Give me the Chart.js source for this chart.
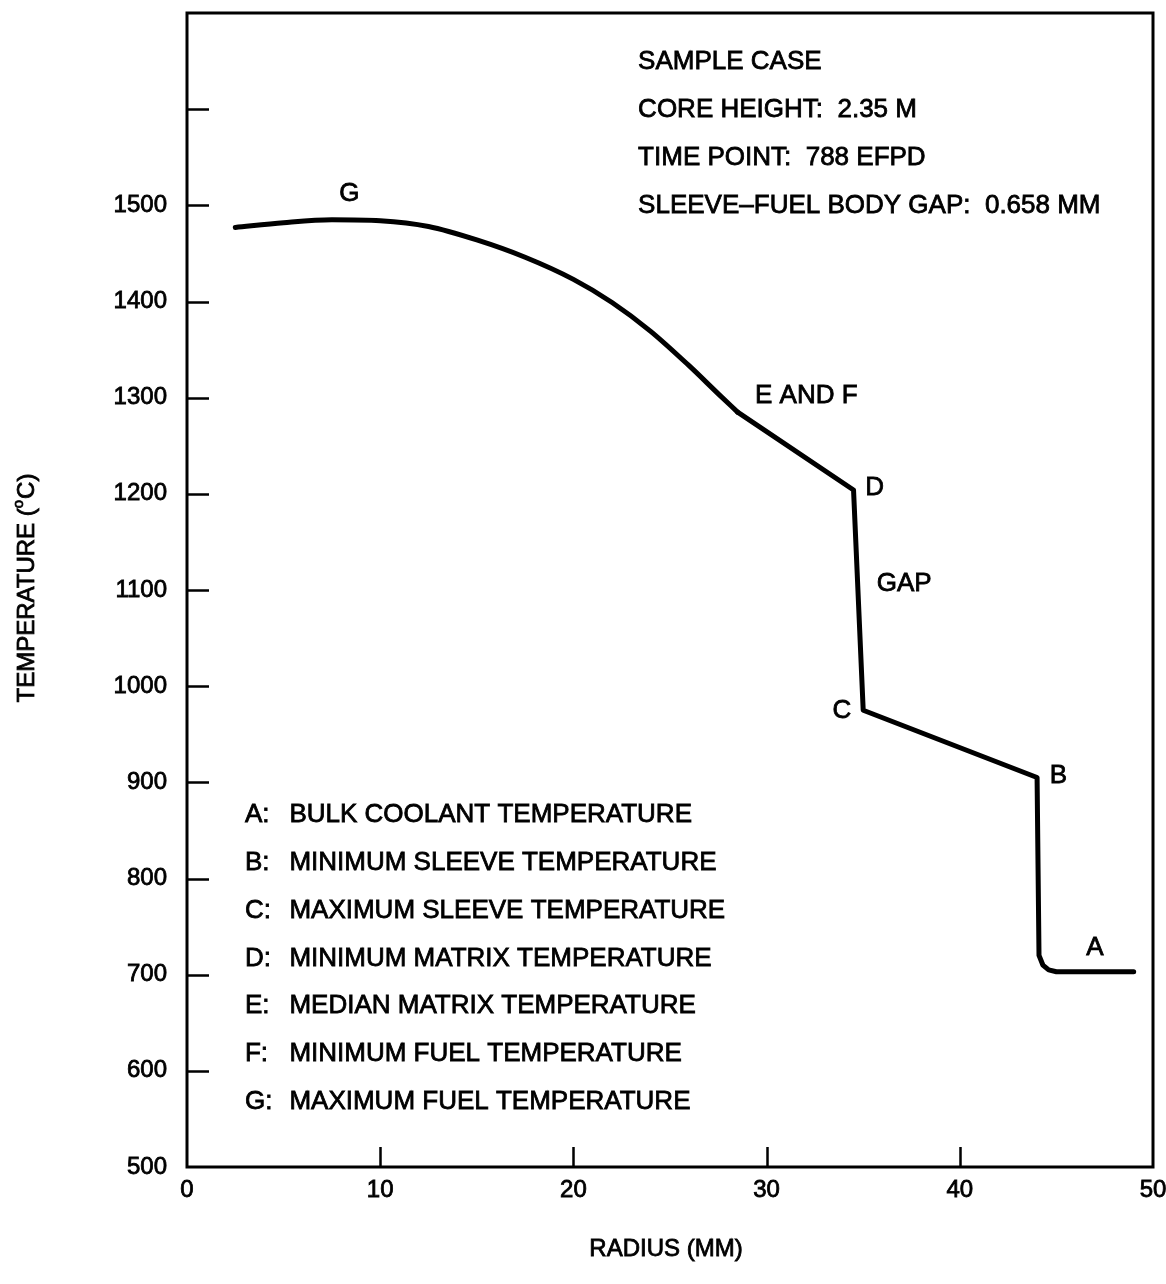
<!DOCTYPE html>
<html>
<head>
<meta charset="utf-8">
<script src="https://cdn.jsdelivr.net/npm/chart.js@4.4.1/dist/chart.umd.min.js"></script>
<style>
	html, body { margin: 0; padding: 0; background: #fff; }
	#wrap { width: 1166px; height: 1284px; position: relative; }
</style>
</head>
<body>
<div id="wrap"><canvas id="tempChart"></canvas></div>
<script>
// radial temperature profile
const radiusMm = [2.5, 5, 7.5, 10, 12.5, 15, 17.5, 20, 22, 24, 26, 27.5, 28.5, 34.5, 35.0, 44.0, 44.1, 44.3, 44.6, 45.0, 49.0];
const temperatureC = [1477, 1482, 1485, 1484, 1478, 1464, 1446, 1423, 1399, 1369, 1333, 1304, 1285, 1204, 975, 905, 720, 710, 705, 703, 703];
const curveEnd = 12; // E/F kink, smooth part before it

const xTickLabels = ["0", "10", "20", "30", "40", "50"];
const yTickLabels = ["500", "600", "700", "800", "900", "1000", "1100", "1200", "1300", "1400", "1500"];
const xTickMarks = [10, 20, 30, 40];
const yTickMarks = [600, 700, 800, 900, 1000, 1100, 1200, 1300, 1400, 1500, 1600];

const infoLines = ["SAMPLE CASE", "CORE HEIGHT:  2.35 M", "TIME POINT:  788 EFPD", "SLEEVE\u2013FUEL BODY GAP:  0.658 MM"];
const legendKeys = ["A:", "B:", "C:", "D:", "E:", "F:", "G:"];
const legendTexts = [
	"BULK COOLANT TEMPERATURE",
	"MINIMUM SLEEVE TEMPERATURE",
	"MAXIMUM SLEEVE TEMPERATURE",
	"MINIMUM MATRIX TEMPERATURE",
	"MEDIAN MATRIX TEMPERATURE",
	"MINIMUM FUEL TEMPERATURE",
	"MAXIMUM FUEL TEMPERATURE",
];

// where the point letters sit (data units)
const pointNotes = [
	{ text: "G", x: 8.4, y: 1512, align: "center" },
	{ text: "E AND F", x: 29.4, y: 1302, align: "left" },
	{ text: "D", x: 35.1, y: 1206, align: "left" },
	{ text: "GAP", x: 35.7, y: 1106, align: "left" },
	{ text: "C", x: 33.9, y: 974, align: "center" },
	{ text: "B", x: 45.1, y: 907, align: "center" },
	{ text: "A", x: 47.0, y: 728, align: "center" },
];

const FONT = '"Liberation Sans", Arial, sans-serif';

// filled + thin stroke, the scanned lettering is heavier than regular
const ink = (ctx, t, x, y) => {
	ctx.fillText(t, x, y);
	ctx.strokeText(t, x, y);
};

const framePlugin = {
	id: "frame",
	afterDraw(chart) {
		const { ctx, chartArea: a, scales } = chart;
		const x = scales.x;
		const y = scales.y;
		ctx.save();
		ctx.strokeStyle = "#000";
		ctx.fillStyle = "#000";
		ctx.lineWidth = 3;
		ctx.strokeRect(a.left, a.top, a.right - a.left, a.bottom - a.top);

		// inward ticks
		ctx.lineWidth = 2.5;
		ctx.beginPath();
		yTickMarks.forEach((v) => {
			const py = Math.round(y.getPixelForValue(v)) + 0.5;
			ctx.moveTo(a.left, py);
			ctx.lineTo(a.left + 22, py);
		});
		xTickMarks.forEach((v) => {
			const px = Math.round(x.getPixelForValue(v)) + 0.5;
			ctx.moveTo(px, a.bottom);
			ctx.lineTo(px, a.bottom - 20);
		});
		ctx.stroke();

		ctx.lineWidth = 0.8;
		ctx.textBaseline = "middle";

		// tick labels
		ctx.font = "24px " + FONT;
		ctx.textAlign = "right";
		yTickLabels.forEach((t) => ink(ctx, t, a.left - 20, y.getPixelForValue(Number(t))));
		ctx.textAlign = "center";
		xTickLabels.forEach((t) => ink(ctx, t, x.getPixelForValue(Number(t)), a.bottom + 23));

		ctx.font = "26px " + FONT;
		// info block
		ctx.textAlign = "left";
		infoLines.forEach((t, i) => {
			ink(ctx, t, x.getPixelForValue(23.35), y.getPixelForValue(1649 - 49.7 * i));
		});

		// legend
		legendKeys.forEach((k, i) => {
			const py = y.getPixelForValue(866 - 49.7 * i);
			ink(ctx, k, x.getPixelForValue(3.0), py);
			ink(ctx, legendTexts[i], x.getPixelForValue(5.3), py);
		});

		// point labels
		pointNotes.forEach((n) => {
			ctx.textAlign = n.align;
			ink(ctx, n.text, x.getPixelForValue(n.x), y.getPixelForValue(n.y));
		});

		// axis titles
		ctx.font = "24px " + FONT;
		ctx.textAlign = "center";
		ink(ctx, "RADIUS (MM)", 666, 1249);

		ctx.translate(27, 588);
		ctx.rotate(-Math.PI / 2);
		const partA = "TEMPERATURE (";
		const partB = "C)";
		const wA = ctx.measureText(partA).width;
		const wB = ctx.measureText(partB).width;
		ctx.font = "15px " + FONT;
		const wO = ctx.measureText("o").width + 1;
		const start = -(wA + wO + wB) / 2;
		ctx.textAlign = "left";
		ctx.font = "24px " + FONT;
		ink(ctx, partA, start, 0);
		ctx.font = "15px " + FONT;
		ink(ctx, "o", start + wA, -8);
		ctx.font = "24px " + FONT;
		ink(ctx, partB, start + wA + wO, 0);
		ctx.restore();
	},
};

const toPoints = (from, to) => radiusMm.slice(from, to).map((r, i) => ({ x: r, y: temperatureC[from + i] }));
const lineStyle = {
	showLine: true,
	borderColor: "#000",
	borderWidth: 5,
	pointRadius: 0,
	borderJoinStyle: "round",
	borderCapStyle: "round",
};

new Chart(document.getElementById("tempChart"), {
	type: "scatter",
	data: {
		datasets: [
			{ ...lineStyle, data: toPoints(0, curveEnd + 1), cubicInterpolationMode: "monotone" },
			{ ...lineStyle, data: toPoints(curveEnd, radiusMm.length), tension: 0 },
		],
	},
	options: {
		responsive: true,
		maintainAspectRatio: false,
		animation: false,
		layout: { padding: { top: 13, right: 13, left: 0, bottom: 0 } },
		plugins: { legend: { display: false }, tooltip: { enabled: false } },
		scales: {
			x: {
				type: "linear",
				min: 0,
				max: 50,
				afterFit: (s) => { s.height = 117; },
				grid: { display: false, drawTicks: false },
				border: { display: false },
				ticks: { display: false },
			},
			y: {
				type: "linear",
				min: 500,
				max: 1700,
				afterFit: (s) => { s.width = 187; },
				grid: { display: false, drawTicks: false },
				border: { display: false },
				ticks: { display: false },
			},
		},
	},
	plugins: [framePlugin],
});
</script>
</body>
</html>
